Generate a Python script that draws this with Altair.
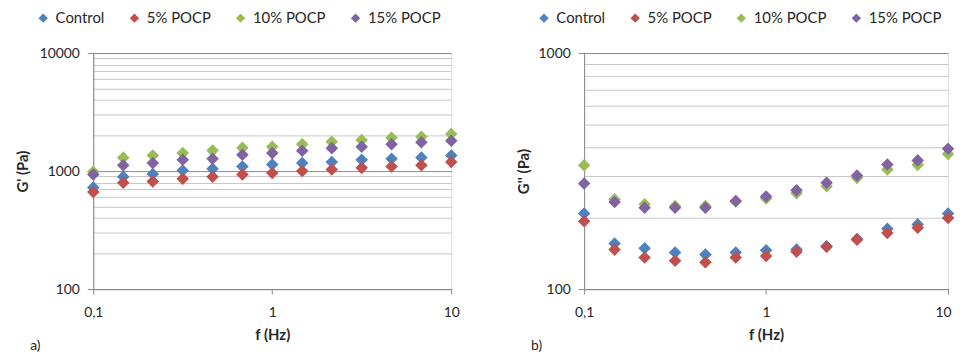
import altair as alt
import pandas as pd

freq = [0.1, 0.147, 0.215, 0.316, 0.464, 0.681, 1.0, 1.47, 2.15, 3.16, 4.64, 6.81, 10.0]
series_names = ["Control", "5% POCP", "10% POCP", "15% POCP"]
colors = ["#4F81BD", "#C0504D", "#9BBB59", "#8064A2"]

# G' (Pa)
gp_control = [725, 895, 945, 1010, 1045, 1095, 1135, 1170, 1195, 1250, 1270, 1305, 1355]
gp_5 = [665, 795, 815, 860, 895, 935, 965, 1000, 1030, 1065, 1095, 1120, 1195]
gp_10 = [985, 1300, 1355, 1420, 1495, 1575, 1610, 1690, 1775, 1835, 1920, 1955, 2060]
gp_15 = [935, 1120, 1170, 1250, 1270, 1375, 1420, 1485, 1565, 1610, 1690, 1755, 1810]

# G'' (Pa)
gpp_control = [209, 156, 149, 143, 140, 143, 146, 147, 152, 163, 180, 188, 209]
gpp_5 = [194, 147, 136, 132, 130, 136, 138, 144, 151, 162, 173, 182, 200]
gpp_10 = [335, 240, 229, 225, 225, 235, 242, 255, 273, 296, 321, 336, 374]
gpp_15 = [280, 234, 221, 221, 221, 236, 247, 262, 282, 303, 337, 351, 393]


def make_df(lists):
    rows = []
    for name, vals in zip(series_names, lists):
        for f, v in zip(freq, vals):
            rows.append({"f": f, "value": v, "series": name})
    return pd.DataFrame(rows)


df_a = make_df([gp_control, gp_5, gp_10, gp_15])
df_b = make_df([gpp_control, gpp_5, gpp_10, gpp_15])

FONT = "Lato"
TXT = "#262626"


def minor_values(lo, hi):
    vals = []
    d = lo
    while d < hi:
        for k in range(1, 10):
            vals.append(d * k)
        d *= 10
    vals.append(hi)
    return vals


def panel(df, ytitle, ylo, yhi, w, h, tag, legend_x, title_pad, flush_last):
    majors = []
    d = ylo
    while d <= yhi:
        majors.append(d)
        d *= 10
    test = " || ".join(f"datum.value == {m}" for m in majors)
    xaxis_extra = {}
    if flush_last:
        xaxis_extra = dict(
            labelAlign={"condition": {"test": "datum.value == 10", "value": "right"}, "value": "center"},
            labelOffset={"condition": {"test": "datum.value == 10", "value": 3}, "value": 0},
        )
    x = alt.X(
        "f:Q",
        scale=alt.Scale(type="log", domain=[0.1, 10], nice=False),
        axis=alt.Axis(
            values=[0.1, 1, 10],
            labelExpr="replace(format(datum.value, '~g'), '.', ',')",
            title="f (Hz)",
            grid=False,
            domainColor="#868686",
            tickColor="#868686",
            tickSize=5,
            labelFont=FONT,
            labelFontSize=14,
            labelColor=TXT,
            labelPadding=12,
            titleFont=FONT,
            titleFontSize=15,
            titleFontWeight="bold",
            titleColor=TXT,
            titlePadding=8,
            labelFlush=False,
            **xaxis_extra,
        ),
    )
    y = alt.Y(
        "value:Q",
        scale=alt.Scale(type="log", domain=[ylo, yhi], nice=False),
        axis=alt.Axis(
            values=minor_values(ylo, yhi),
            labelExpr=f"({test}) ? format(datum.value, 'd') : ''",
            labelOverlap=False,
            title=ytitle,
            grid=True,
            gridColor={"condition": {"test": test, "value": "#8a8a8a"}, "value": "#c6c6c6"},
            gridWidth=1,
            tickOpacity={"condition": {"test": test, "value": 1}, "value": 0},
            tickColor="#868686",
            tickSize=6,
            domainColor="#868686",
            labelFont=FONT,
            labelFontSize=14,
            labelColor=TXT,
            labelPadding=8,
            titleFont=FONT,
            titleFontSize=15,
            titleFontWeight="bold",
            titleColor=TXT,
            titlePadding=title_pad,
        ),
    )
    color = alt.Color(
        "series:N",
        scale=alt.Scale(domain=series_names, range=colors),
        sort=series_names,
        legend=alt.Legend(
            title=None,
            orient="none",
            direction="horizontal",
            legendX=legend_x,
            legendY=-43,
            symbolType="diamond",
            symbolSize=90,
            symbolStrokeWidth=0,
            symbolOpacity=1,
            labelFont=FONT,
            labelFontSize=15,
            labelColor=TXT,
            columnPadding=22,
            labelOffset=5,
            padding=0,
        ),
    )
    return (
        alt.Chart(df)
        .mark_point(shape="diamond", filled=True, size=160, opacity=1)
        .encode(x=x, y=y, color=color, order=alt.Order("order:Q"))
        .transform_calculate(order=f"indexof({series_names}, datum.series)")
        .properties(
            width=w,
            height=h,
            title=alt.TitleParams(
                tag,
                orient="bottom",
                anchor="start",
                frame="bounds",
                font=FONT,
                fontSize=14,
                fontWeight="normal",
                color=TXT,
                offset=-4,
                dx=15,
            ),
        )
    )


left = panel(df_a, "G' (Pa)", 100, 10000, 361, 238, "a)", -58, 9, False)
right = panel(df_b, "G'' (Pa)", 100, 1000, 367, 238, "b)", -48, 7, True)

chart = (
    alt.hconcat(left, right, spacing=56)
    .resolve_legend(color="independent")
    .configure_view(stroke=None)
    .configure(background="white", padding={"left": 6, "top": 0, "right": 0, "bottom": 0})
)

chart.save("out.html", embed_options={"renderer": "svg", "actions": False})
